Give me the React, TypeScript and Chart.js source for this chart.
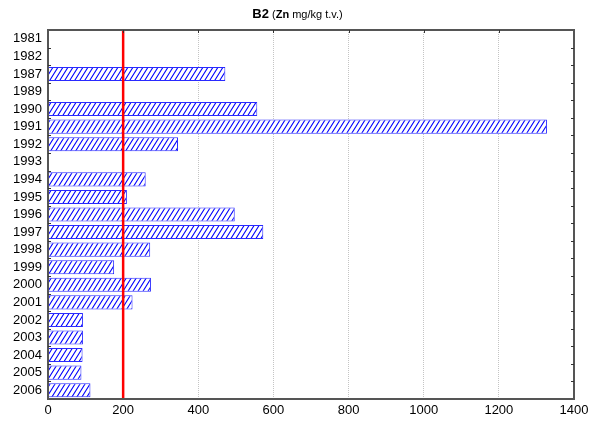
import React, { useEffect, useRef } from "react";
import { Chart, registerables } from "chart.js";

Chart.register(...registerables);

const years = ["1981", "1982", "1987", "1989", "1990", "1991", "1992", "1993", "1994", "1995", "1996", "1997", "1998", "1999", "2000", "2001", "2002", "2003", "2004", "2005", "2006"];
const znValues: (number | null)[] = [null, null, 472, null, 557, 1328, 346, null, 260, 210, 497, 573, 272, 176, 274, 225, 93, 93, 92, 89, 113];
const xTickMin = 0;
const xTickMax = 1400;
const xTickStep = 200;
const referenceValue = 200;
const titleMain = "B2";
const titleElement = "Zn";
const titleUnit = " mg/kg t.v.)";

const FONT = "'Liberation Sans', Arial, sans-serif";

function makeHatch(): CanvasPattern | string {
  const w = 5, h = 8;
  const c = document.createElement("canvas");
  c.width = w;
  c.height = h;
  const g = c.getContext("2d");
  if (!g) return "#ffffff";
  g.fillStyle = "#ffffff";
  g.fillRect(0, 0, w, h);
  g.strokeStyle = "#0000ff";
  g.lineWidth = 1.1;
  g.beginPath();
  for (let k = -2; k <= 2; k++) {
    g.moveTo(k * w - w, 2 * h);
    g.lineTo(k * w + 2 * w, -h);
  }
  g.stroke();
  const p = g.createPattern(c, "repeat");
  return p || "#ffffff";
}

const decorPlugin = {
  id: "decor",
  afterDatasetsDraw(chart: any) {
    const { ctx, chartArea, scales } = chart;
    const x = scales.x;
    const px = x.getPixelForValue(referenceValue);
    ctx.save();
    ctx.strokeStyle = "#ff0000";
    ctx.lineWidth = 2.5;
    ctx.beginPath();
    ctx.moveTo(px, chartArea.top);
    ctx.lineTo(px, chartArea.bottom);
    ctx.stroke();
    ctx.restore();
  },
  afterDraw(chart: any) {
    const { ctx, chartArea, scales } = chart;
    const { left, right, top, bottom } = chartArea;
    const n = years.length;
    ctx.save();
    ctx.strokeStyle = "#555555";
    ctx.lineWidth = 2;
    ctx.strokeRect(left, top, right - left, bottom - top);
    ctx.lineWidth = 1;
    ctx.strokeStyle = "#333333";
    ctx.beginPath();
    for (let i = 1; i < n; i++) {
      const y = Math.round(top + (i * (bottom - top)) / n) + 0.5;
      ctx.moveTo(left, y);
      ctx.lineTo(left + 3, y);
      ctx.moveTo(right, y);
      ctx.lineTo(right - 3, y);
    }
    for (let v = xTickMin + xTickStep; v < xTickMax; v += xTickStep) {
      const xx = Math.round(scales.x.getPixelForValue(v)) + 0.5;
      ctx.moveTo(xx, top);
      ctx.lineTo(xx, top + 3);
    }
    ctx.stroke();
    const boldBig = `bold 13px ${FONT}`;
    const boldSmall = `bold 11px ${FONT}`;
    const normSmall = `11px ${FONT}`;
    const parts: [string, string][] = [
      [titleMain, boldBig],
      [" (", normSmall],
      [titleElement, boldSmall],
      [titleUnit, normSmall],
    ];
    let total = 0;
    for (const [t, f] of parts) {
      ctx.font = f;
      total += ctx.measureText(t).width;
    }
    let cx = chart.width / 2 - total / 2;
    ctx.fillStyle = "#000000";
    ctx.textBaseline = "alphabetic";
    ctx.textAlign = "left";
    for (const [t, f] of parts) {
      ctx.font = f;
      ctx.fillText(t, cx, 18);
      cx += ctx.measureText(t).width;
    }
    ctx.restore();
  },
};

export default function App() {
  const ref = useRef<HTMLCanvasElement | null>(null);
  useEffect(() => {
    document.body.style.margin = "0";
    if (!ref.current) return;
    const chart = new Chart(ref.current, {
      type: "bar",
      data: {
        labels: years,
        datasets: [
          {
            data: znValues,
            backgroundColor: makeHatch() as any,
            borderColor: "#2a2aff",
            borderWidth: 1,
            barPercentage: 0.8,
            categoryPercentage: 1,
          },
        ],
      },
      options: {
        indexAxis: "y",
        responsive: false,
        animation: false,
        devicePixelRatio: 1,
        layout: { padding: { top: 30, right: 21, bottom: 0, left: 0 } },
        plugins: {
          legend: { display: false },
          title: { display: false },
          tooltip: { enabled: false },
        },
        scales: {
          x: {
            type: "linear",
            min: xTickMin,
            max: xTickMax,
            ticks: {
              stepSize: xTickStep,
              color: "#000000",
              font: { family: FONT, size: 13 },
              padding: 4,
              maxRotation: 0,
              callback: (v: any) => String(v),
            },
            grid: {
              drawTicks: false,
              color: (c: any) =>
                c.tick && (c.tick.value === xTickMin || c.tick.value === xTickMax)
                  ? "rgba(0,0,0,0)"
                  : "#c4c4c4",
              lineWidth: 1,
            },
            border: { display: false, dash: [1, 1] },
            afterFit: (s: any) => {
              s.height = 26;
            },
          },
          y: {
            type: "category",
            ticks: {
              color: "#000000",
              font: { family: FONT, size: 13 },
              padding: 6,
              autoSkip: false,
            },
            grid: { display: false, drawTicks: false },
            border: { display: false },
            afterFit: (s: any) => {
              s.width = 48;
            },
          },
        },
      },
      plugins: [decorPlugin],
    });
    return () => chart.destroy();
  }, []);
  return (
    <div style={{ width: 595, height: 425, background: "#ffffff" }}>
      <canvas ref={ref} width={595} height={425} style={{ display: "block" }} />
    </div>
  );
}
